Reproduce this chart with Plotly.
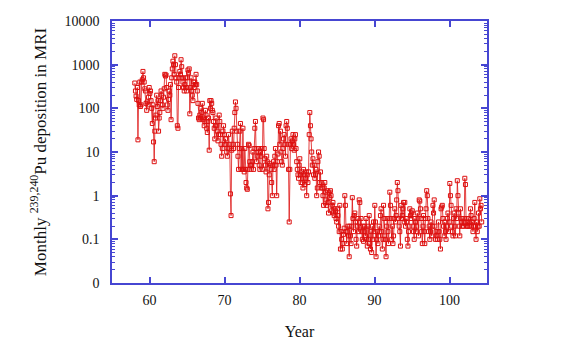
import plotly.graph_objects as go

v1958 = [380, 250, 190, 160, 300, 19, 150, 120, 400, 110, 120, 400]
v1959 = [450, 700, 500, 400, 280, 250, 130, 90, 140, 120, 180, 300]
v1960 = [220, 250, 150, 100, 45, 120, 17, 6, 30, 60, 70, 200]
v1961 = [110, 150, 30, 60, 80, 150, 250, 200, 120, 100, 180, 280]
v1962 = [600, 550, 580, 300, 120, 90, 160, 250, 200, 350, 55, 500]
v1963 = [800, 1200, 1000, 600, 1600, 1000, 500, 400, 40, 35, 300, 500]
v1964 = [700, 600, 1300, 900, 500, 400, 300, 250, 350, 500, 300, 250]
v1965 = [500, 750, 650, 800, 75, 300, 500, 250, 200, 150, 400, 300]
v1966 = [400, 350, 600, 350, 250, 130, 60, 55, 70, 60, 100, 80]
v1967 = [130, 55, 60, 40, 50, 90, 70, 35, 28, 50, 60, 11]
v1968 = [150, 100, 150, 130, 90, 80, 50, 35, 20, 40, 60, 40]
v1969 = [30, 18, 25, 70, 50, 25, 15, 8, 12, 30, 40, 25]
v1970 = [15, 20, 15, 10, 8, 12, 25, 15, 12, 1.1, 0.35, 11]
v1971 = [30, 15, 12, 35, 80, 140, 100, 30, 15, 8, 4, 12]
v1972 = [30, 45, 4, 12, 4, 35, 4, 3.5, 12, 4, 2, 1.5]
v1973 = [1.4, 4, 15, 14, 6, 5, 4, 5, 6, 10, 4, 12]
v1974 = [35, 50, 12, 6, 8, 10, 12, 5, 4, 10, 8, 12]
v1975 = [4, 60, 55, 12, 7, 5, 3.5, 8, 6, 0.5, 0.7, 3]
v1976 = [5.5, 5, 4, 2, 1, 5, 6, 4, 8, 12, 5, 1]
v1977 = [6, 9, 40, 45, 15, 30, 10, 6, 5, 12, 20, 25]
v1978 = [15, 8, 40, 50, 35, 15, 4, 0.25, 4, 15, 20, 12]
v1979 = [18, 25, 15, 11, 20, 25, 12, 6, 4, 3, 2.5, 5]
v1980 = [7, 3, 2, 3.5, 2, 1.5, 4, 3, 1.8, 2.5, 3.5, 1]
v1981 = [3, 2, 3.5, 25, 80, 40, 20, 10, 5, 7, 3, 5]
v1982 = [2.5, 3, 4, 1, 1.5, 6, 10, 8, 2, 3.5, 1.5, 2]
v1983 = [1.5, 1, 0.6, 1.5, 2, 1.2, 0.8, 0.6, 1.3, 0.7, 0.4, 1.2]
v1984 = [0.9, 1.3, 1.0, 0.45, 0.6, 0.7, 0.4, 0.35, 0.5, 0.45, 0.3, 0.25]
v1985 = [0.5, 0.35, 0.2, 0.15, 0.6, 0.06, 0.15, 0.1, 0.06, 0.08, 0.13, 0.18]
v1986 = [1.0, 0.6, 0.15, 0.08, 0.15, 0.2, 0.12, 0.04, 0.2, 0.12, 0.08, 0.2]
v1987 = [0.9, 0.3, 0.15, 0.35, 0.4, 0.25, 0.1, 0.07, 0.2, 0.3, 0.15, 0.8]
v1988 = [0.7, 0.2, 0.3, 0.15, 0.1, 0.2, 0.09, 0.15, 0.2, 0.12, 0.3, 0.1]
v1989 = [0.07, 0.2, 0.1, 0.35, 0.08, 0.06, 0.15, 0.05, 0.2, 0.1, 0.25, 0.15]
v1990 = [0.6, 0.25, 0.04, 0.1, 0.15, 0.08, 0.12, 0.2, 0.15, 0.35, 0.5, 0.15]
v1991 = [0.06, 0.1, 0.6, 0.3, 0.12, 0.1, 0.04, 0.2, 0.3, 0.15, 0.08, 0.3]
v1992 = [1.2, 0.6, 0.3, 0.1, 0.2, 0.08, 0.12, 0.3, 0.5, 0.25, 0.35, 0.8]
v1993 = [2.0, 1.3, 0.3, 0.2, 0.15, 0.07, 0.6, 0.3, 0.35, 0.5, 0.7, 0.25]
v1994 = [0.7, 0.2, 0.3, 0.25, 0.1, 0.07, 0.15, 0.2, 0.5, 0.35, 0.3, 0.4]
v1995 = [0.45, 0.2, 0.15, 0.1, 0.3, 0.25, 0.15, 0.2, 0.4, 0.3, 0.12, 0.8]
v1996 = [0.75, 0.5, 0.3, 0.15, 0.08, 0.2, 0.35, 0.15, 0.08, 0.3, 0.5, 1.3]
v1997 = [1.0, 0.3, 0.15, 0.2, 0.1, 0.15, 0.25, 0.12, 0.2, 0.6, 0.4, 0.8]
v1998 = [0.2, 0.1, 0.15, 0.12, 0.1, 0.15, 0.25, 0.15, 0.1, 0.06, 0.5, 0.55]
v1999 = [0.6, 0.3, 0.2, 0.12, 0.25, 0.15, 0.1, 0.2, 0.3, 0.4, 0.15, 0.25]
v2000 = [1.9, 1.0, 0.6, 0.2, 0.15, 0.12, 0.3, 0.4, 0.2, 0.12, 0.5, 0.3]
v2001 = [2.2, 1.0, 0.4, 0.2, 0.12, 0.5, 0.3, 0.25, 0.2, 0.3, 0.2, 0.25]
v2002 = [2.5, 1.8, 0.3, 0.2, 0.25, 0.2, 0.3, 0.2, 0.25, 0.5, 0.35, 0.2]
v2003 = [0.25, 0.15, 0.2, 0.3, 0.7, 0.2, 0.1, 0.25, 0.15, 0.2, 0.4, 0.2]
v2004 = [0.85, 0.5, 0.6, 0.25]

years = list(range(58, 105))
series = [v1958, v1959, v1960, v1961, v1962, v1963, v1964, v1965, v1966, v1967,
          v1968, v1969, v1970, v1971, v1972, v1973, v1974, v1975, v1976, v1977,
          v1978, v1979, v1980, v1981, v1982, v1983, v1984, v1985, v1986, v1987,
          v1988, v1989, v1990, v1991, v1992, v1993, v1994, v1995, v1996, v1997,
          v1998, v1999, v2000, v2001, v2002, v2003, v2004]

x_tick_vals = [60, 70, 80, 90, 100]
y_tick_vals = [0.01, 0.1, 1, 10, 100, 1000, 10000]
y_tick_text = ["0", "0.1", "1", "10", "100", "1000", "10000"]

xs, ys = [], []
for yr, vals in zip(years, series):
    for m, v in enumerate(vals):
        xs.append(yr + (m + 0.5) / 12.0)
        ys.append(v)

minor_vals = [k * 10 ** e for e in range(-2, 4) for k in range(2, 10)]

red = "#dd1111"
frame = "#4646d2"
serif = "Liberation Serif"

fig = go.Figure()
fig.add_trace(go.Scatter(
    x=xs, y=ys, mode="lines+markers",
    line=dict(color=red, width=0.8),
    marker=dict(symbol="square-open", size=4, color=red, line=dict(width=1, color=red)),
    showlegend=False,
))

# page body has an 8px default margin, so the figure is a bit smaller and shifted
fig.update_layout(
    width=559, height=335,
    margin=dict(l=104, r=80, t=13, b=60),
    paper_bgcolor="white", plot_bgcolor="white",
    font=dict(family=serif, size=14, color="#111111"),
)
fig.update_xaxes(
    range=[55, 105], tickvals=x_tick_vals, automargin=False,
    ticks="inside", ticklen=6, tickwidth=1.5, tickcolor=frame,
    showline=True, linecolor=frame, linewidth=1.5, mirror="ticks",
    showgrid=False, zeroline=False,
    tickfont=dict(family=serif, size=14, color="#111111"), ticklabelstandoff=3,
    title=dict(text="Year", font=dict(family=serif, size=16, color="#111111"), standoff=19),
)
fig.update_yaxes(
    type="log", range=[-2, 4], automargin=False,
    tickvals=y_tick_vals, ticktext=y_tick_text,
    ticks="inside", ticklen=6, tickwidth=1.5, tickcolor=frame,
    minor=dict(tickvals=minor_vals, ticks="inside", ticklen=3, tickcolor=frame, tickwidth=1),
    showline=True, linecolor=frame, linewidth=1.5, mirror="ticks",
    showgrid=False, zeroline=False,
    tickfont=dict(family=serif, size=14, color="#111111"), ticklabelstandoff=8,
    title=dict(text="Monthly <sup>239,240</sup>Pu deposition in MRI",
               font=dict(family=serif, size=17, color="#111111"), standoff=14),
)

fig.write_html("out.html")
